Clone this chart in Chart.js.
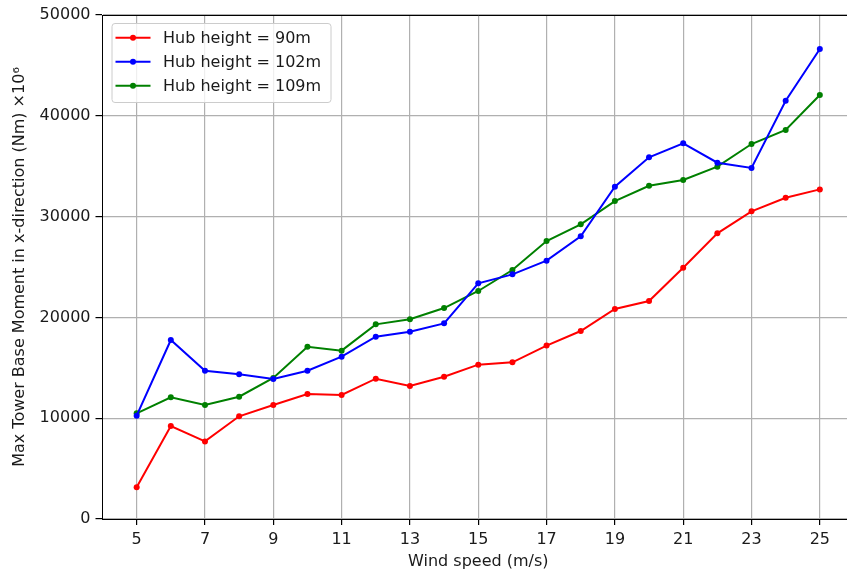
<!DOCTYPE html>
<html><head><meta charset="utf-8">
<script src="https://cdn.jsdelivr.net/npm/chart.js@4"></script>
<style>html,body{margin:0;padding:0;overflow:hidden;background:#fff}#wrap{width:860px;height:574px;position:relative}</style>
</head><body><div id="wrap"><canvas id="c"></canvas></div>
<script>
const windSpeed = [5,6,7,8,9,10,11,12,13,14,15,16,17,18,19,20,21,22,23,24,25];
const hub90  = [3150,9220,7700,10190,11310,12400,12300,13920,13190,14120,15310,15540,17200,18650,20830,21630,24930,28340,30520,31870,32700];
const hub102 = [10250,17760,14710,14350,13890,14710,16100,18090,18580,19410,23380,24270,25630,28040,32960,35880,37270,35350,34820,41500,46620];
const hub109 = [10480,12070,11310,12130,13990,17090,16700,19310,19810,20930,22620,24700,27580,29230,31540,33060,33630,34950,37200,38590,42060];
const seriesLabels = ['Hub height = 90m','Hub height = 102m','Hub height = 109m'];
const seriesColors = ['#ff0000','#0000ff','#008000'];
const xTicks = [5,7,9,11,13,15,17,19,21,23,25];
const yTicks = [0,10000,20000,30000,40000,50000];
const xTitle = 'Wind speed (m/s)';
const yTitle = 'Max Tower Base Moment in x-direction (Nm) \u00d710\u2076';

const FONT = 'DejaVu Sans';
const toPts = arr => windSpeed.map((x,i)=>({x:x,y:arr[i]}));
const seriesData = [hub90,hub102,hub109];

const framePlugin = {
  id:'frame',
  afterDraw(chart){
    const {ctx, chartArea:a} = chart;
    ctx.save();
    ctx.strokeStyle='#000'; ctx.lineWidth=1;
    ctx.beginPath();
    ctx.moveTo(a.left, a.top+0.5); ctx.lineTo(a.right, a.top+0.5);
    ctx.stroke();
    // legend
    const bx=112, by=23.5, bw=219, bh=79, r=3;
    ctx.fillStyle='rgba(255,255,255,0.8)';
    ctx.strokeStyle='#cccccc';
    ctx.beginPath();
    ctx.moveTo(bx+r,by); ctx.lineTo(bx+bw-r,by); ctx.arcTo(bx+bw,by,bx+bw,by+r,r);
    ctx.lineTo(bx+bw,by+bh-r); ctx.arcTo(bx+bw,by+bh,bx+bw-r,by+bh,r);
    ctx.lineTo(bx+r,by+bh); ctx.arcTo(bx,by+bh,bx,by+bh-r,r);
    ctx.lineTo(bx,by+r); ctx.arcTo(bx,by,bx+r,by,r);
    ctx.closePath(); ctx.fill(); ctx.stroke();
    ctx.font = '16px "'+FONT+'"';
    ctx.textBaseline='middle'; ctx.textAlign='left';
    chart.data.datasets.forEach((ds,i)=>{
      const y = 37.7 + i*24;
      ctx.strokeStyle=ds.borderColor; ctx.lineWidth=2;
      ctx.beginPath(); ctx.moveTo(115.5,y); ctx.lineTo(150.5,y); ctx.stroke();
      ctx.fillStyle=ds.borderColor;
      ctx.beginPath(); ctx.arc(133,y,3,0,Math.PI*2); ctx.fill();
      ctx.fillStyle='#1a1a1a';
      ctx.fillText(ds.label,163,y+1);
    });
    ctx.restore();
  }
};

new Chart(document.getElementById('c'),{
  type:'line',
  data:{datasets: seriesData.map((arr,i)=>({
    label: seriesLabels[i], data: toPts(arr),
    borderColor: seriesColors[i], backgroundColor: seriesColors[i],
    pointBackgroundColor: seriesColors[i], pointBorderColor: seriesColors[i],
    borderWidth:2, pointRadius:3, pointBorderWidth:0, tension:0, fill:false
  }))},
  options:{
    responsive:true, maintainAspectRatio:false, animation:false,
    layout:{padding:{left:0,top:15,right:6,bottom:0}},
    plugins:{legend:{display:false}, tooltip:{enabled:false}},
    scales:{
      x:{type:'linear', min:4, max:26,
        afterBuildTicks: s=>{ s.ticks = xTicks.map(v=>({value:v})); },
        afterFit: s=>{ s.height = 55; },
        grid:{color:'#b0b0b0', lineWidth:1.2, tickColor:'#000', tickLength:6, drawTicks:true},
        border:{color:'#000', width:1},
        ticks:{font:{family:FONT,size:16}, color:'#1a1a1a', padding:5, maxRotation:0, autoSkip:false},
        title:{display:true, text:xTitle, font:{family:FONT,size:16}, color:'#1a1a1a', padding:{top:0,bottom:3}}
      },
      y:{type:'linear', min:0, max:50000,
        afterBuildTicks: s=>{ s.ticks = yTicks.map(v=>({value:v})); },
        afterFit: s=>{ s.width = 102.5; },
        grid:{color:'#b0b0b0', lineWidth:1.2, tickColor:'#000', tickLength:7, drawTicks:true},
        border:{color:'#000', width:1},
        ticks:{font:{family:FONT,size:16}, color:'#1a1a1a', padding:5, callback:v=>String(v)},
        title:{display:true, text:yTitle, font:{family:FONT,size:16}, color:'#1a1a1a', padding:{top:10.4,bottom:0}}
      }
    }
  },
  plugins:[framePlugin]
});
</script></body></html>
